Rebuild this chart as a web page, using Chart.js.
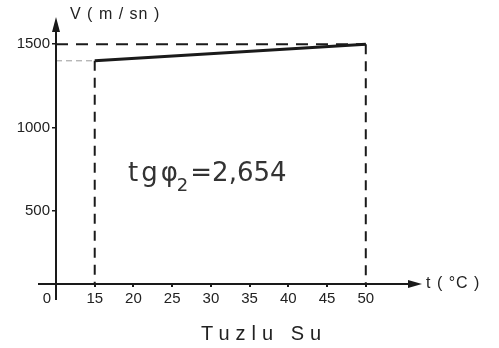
<!DOCTYPE html>
<html>
<head>
<meta charset="utf-8">
<script src="https://cdn.jsdelivr.net/npm/chart.js@4/dist/chart.umd.min.js"></script>
<style>
  html, body { margin: 0; padding: 0; background: #fff; }
  canvas { display: block; }
</style>
</head>
<body>
<canvas id="grafica" width="499" height="348"></canvas>
<script>
// datos (Tuzlu Su)
const temperaturas = [15, 50];          // t (°C)
const velocidades = [1400, 1500];       // V (m/sn)
const ticksX = [15, 20, 25, 30, 35, 40, 45, 50];
const ticksY = [500, 1000, 1500];
const etiquetaOrigen = '0';
const textoPendiente = { base: 'tgφ', sub: '2', resto: '=2,654' };

const xMin = 10, xMax = 57;
const yMin = 60, yMax = 1645;

const negro = '#1a1a1a';

// ejes con flechas y textos sueltos
const pluginEjes = {
  id: 'ejes',
  afterDraw(chart) {
    const { ctx, chartArea: a } = chart;
    const x0 = a.left, y0 = a.bottom;
    ctx.save();
    ctx.strokeStyle = negro;
    ctx.fillStyle = negro;
    ctx.lineWidth = 2;
    // eje x
    ctx.beginPath();
    ctx.moveTo(38, y0);
    ctx.lineTo(a.right - 8, y0);
    ctx.stroke();
    ctx.beginPath();
    ctx.moveTo(a.right + 2, y0);
    ctx.lineTo(a.right - 12, y0 - 4);
    ctx.lineTo(a.right - 12, y0 + 4);
    ctx.closePath();
    ctx.fill();
    // eje y
    ctx.beginPath();
    ctx.moveTo(x0, 300);
    ctx.lineTo(x0, a.top + 6);
    ctx.stroke();
    ctx.beginPath();
    ctx.moveTo(x0, a.top - 3);
    ctx.lineTo(x0 - 4, a.top + 12);
    ctx.lineTo(x0 + 4, a.top + 12);
    ctx.closePath();
    ctx.fill();

    ctx.fillStyle = '#222';
    ctx.textBaseline = 'middle';
    ctx.font = '15px "Liberation Sans", Arial, sans-serif';
    ctx.textAlign = 'center';
    ctx.fillText(etiquetaOrigen, x0 - 9, 299);
    ctx.textAlign = 'left';
    ctx.font = '16px "Liberation Sans", Arial, sans-serif';
    ctx.letterSpacing = '1px';
    ctx.fillText('V ( m / sn )', 70, 15);
    ctx.fillText('t ( °C )', a.right + 6, y0);

    ctx.font = '20px "Liberation Sans", Arial, sans-serif';
    ctx.letterSpacing = '6px';
    ctx.textAlign = 'center';
    ctx.fillText('Tuzlu Su', 264, 334);
    ctx.letterSpacing = '0px';

    // anotacion manuscrita
    ctx.fillStyle = '#333';
    ctx.textAlign = 'left';
    ctx.font = '26px "DejaVu Sans", sans-serif';
    let px = 128;
    ctx.letterSpacing = '3px';
    ctx.fillText(textoPendiente.base, px, 174);
    px += ctx.measureText(textoPendiente.base).width;
    ctx.letterSpacing = '0px';
    ctx.font = '18px "DejaVu Sans", sans-serif';
    ctx.fillText(textoPendiente.sub, px - 4, 186);
    px += ctx.measureText(textoPendiente.sub).width - 2;
    ctx.font = '26px "DejaVu Sans", sans-serif';
    ctx.fillText(textoPendiente.resto, px, 174);
    ctx.restore();
  }
};

const puntoIni = { x: temperaturas[0], y: velocidades[0] };
const puntoFin = { x: temperaturas[1], y: velocidades[1] };

const datasets = [
  {
    label: 'V',
    data: [puntoIni, puntoFin],
    borderColor: negro,
    borderWidth: 3,
    pointRadius: 0,
    order: 0
  },
  {
    label: 'ref 1500',
    data: [{ x: xMin, y: velocidades[1] }, puntoFin],
    borderColor: negro,
    borderWidth: 2,
    borderDash: [12, 8],
    pointRadius: 0,
    order: 1
  },
  {
    label: 'ref 1400',
    data: [{ x: xMin, y: velocidades[0] }, puntoIni],
    borderColor: '#999',
    borderWidth: 1,
    borderDash: [6, 4],
    pointRadius: 0,
    order: 1
  },
  {
    label: 'vert 15',
    data: [puntoIni, { x: temperaturas[0], y: yMin }],
    borderColor: negro,
    borderWidth: 2,
    borderDash: [10, 7],
    pointRadius: 0,
    order: 1
  },
  {
    label: 'vert 50',
    data: [puntoFin, { x: temperaturas[1], y: yMin }],
    borderColor: negro,
    borderWidth: 2,
    borderDash: [10, 7],
    pointRadius: 0,
    order: 1
  }
];

new Chart(document.getElementById('grafica'), {
  type: 'line',
  data: { datasets },
  options: {
    responsive: false,
    animation: false,
    layout: { padding: { left: 0, top: 20, right: 79, bottom: 0 } },
    plugins: { legend: { display: false }, tooltip: { enabled: false } },
    scales: {
      x: {
        type: 'linear',
        min: xMin,
        max: xMax,
        afterBuildTicks: s => { s.ticks = ticksX.map(v => ({ value: v })); },
        afterFit: s => { s.height = 64; },
        border: { display: false },
        grid: { drawOnChartArea: false, tickLength: 3, color: negro, lineWidth: 2 },
        ticks: {
          color: '#222',
          padding: 3,
          maxRotation: 0,
          callback: v => String(v),
          font: { family: '"Liberation Sans", Arial, sans-serif', size: 15 }
        }
      },
      y: {
        type: 'linear',
        min: yMin,
        max: yMax,
        afterBuildTicks: s => { s.ticks = ticksY.map(v => ({ value: v })); },
        afterFit: s => { s.width = 56; },
        border: { display: false },
        grid: { drawOnChartArea: false, tickLength: 4, color: negro, lineWidth: 1.5 },
        ticks: {
          color: '#222',
          padding: 2,
          callback: v => String(v),
          font: { family: '"Liberation Sans", Arial, sans-serif', size: 15 }
        }
      }
    }
  },
  plugins: [pluginEjes]
});
</script>
</body>
</html>
